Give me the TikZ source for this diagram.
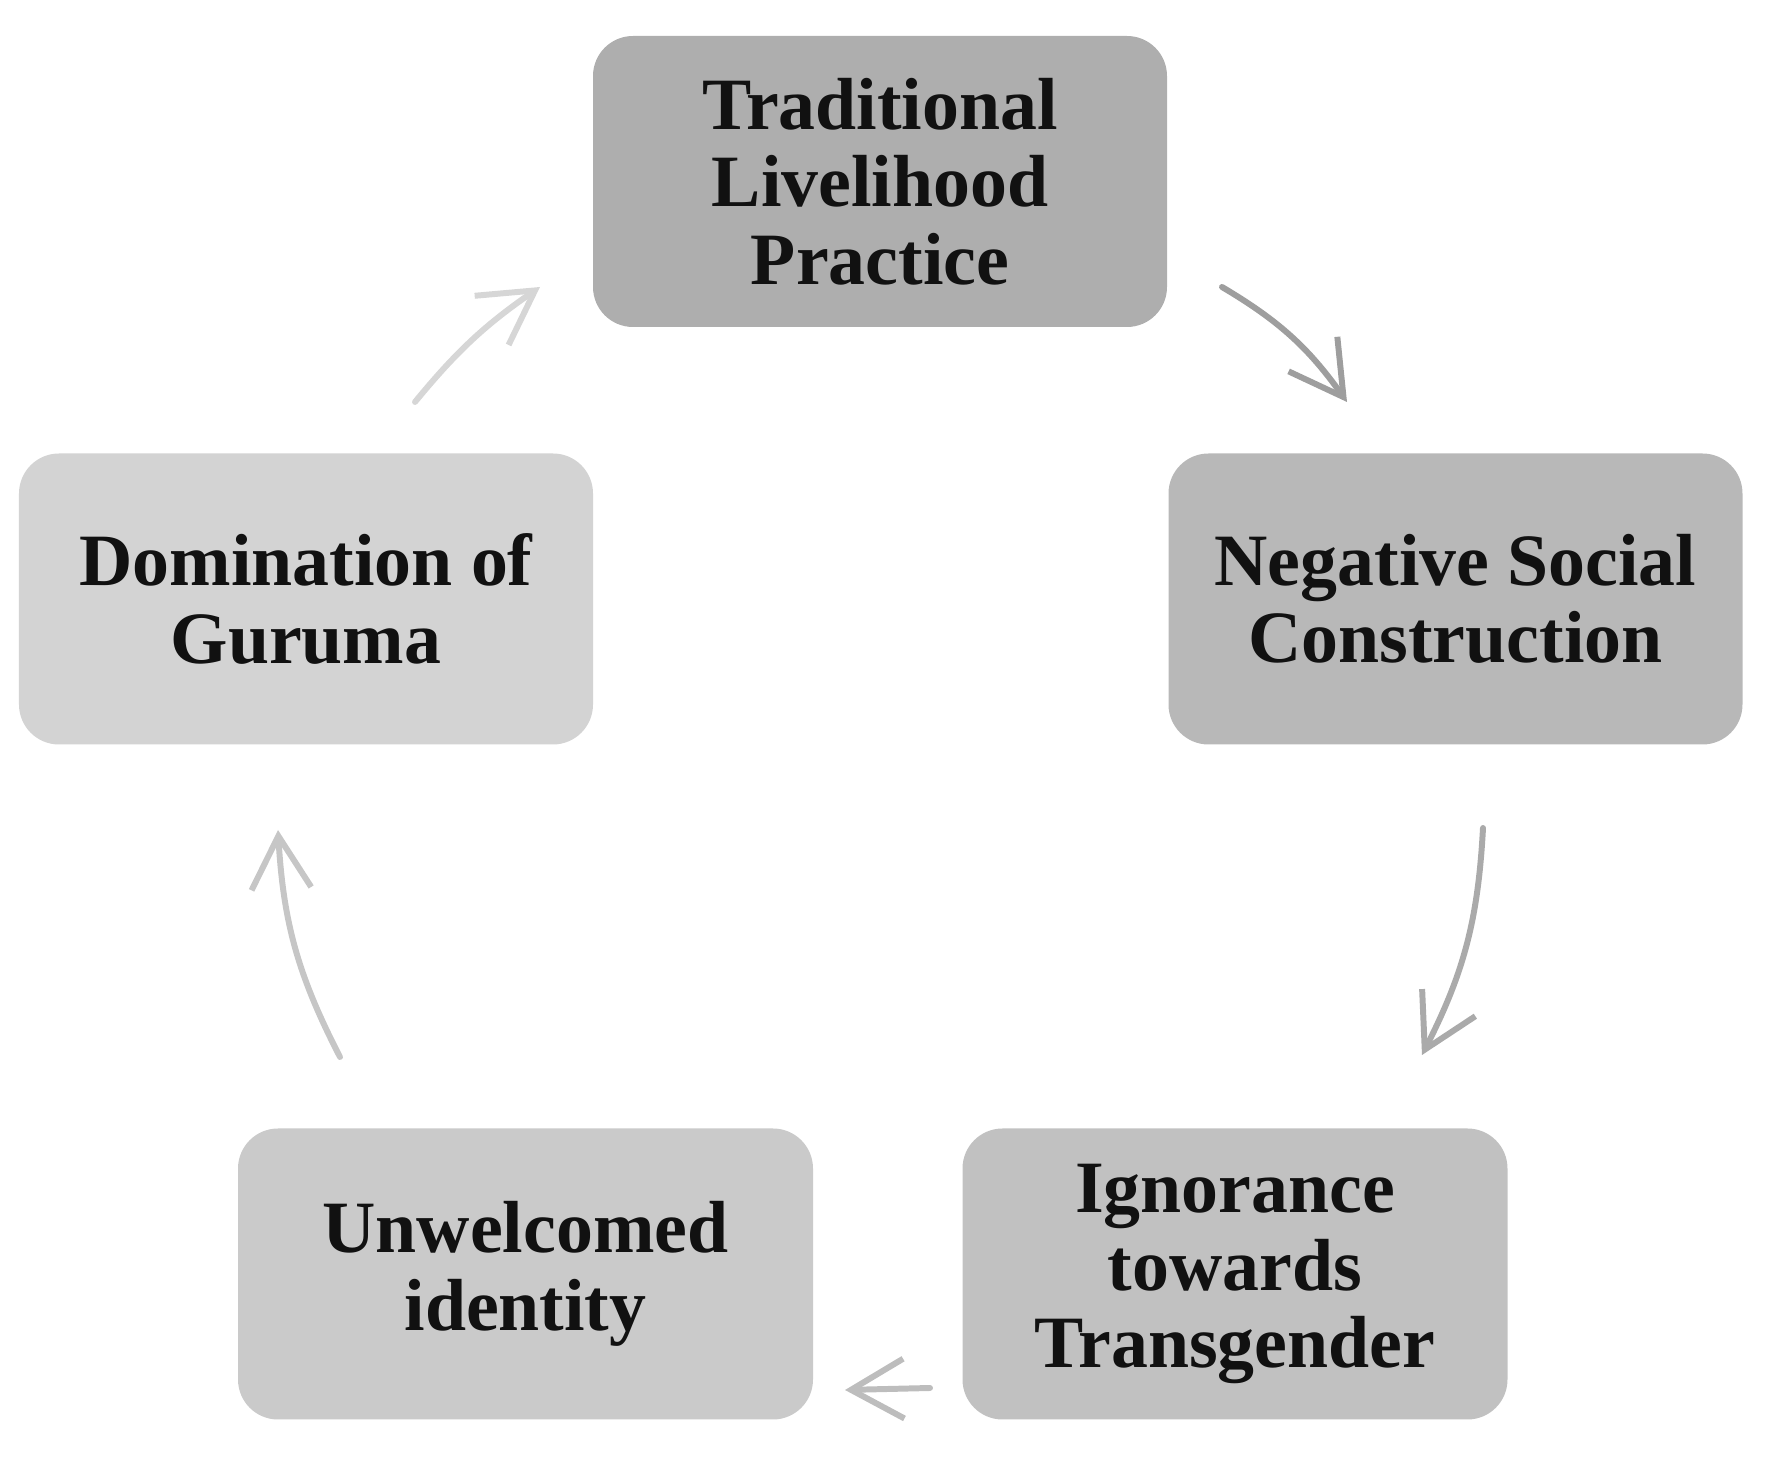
\documentclass[tikz,border=0pt]{standalone}
\usepackage{fontspec}
\setmainfont{Liberation Serif}
\usetikzlibrary{arrows.meta,positioning}
\definecolor{boxa}{HTML}{AEAEAE}
\definecolor{boxb}{HTML}{B8B8B8}
\definecolor{boxc}{HTML}{C1C1C1}
\definecolor{boxd}{HTML}{CACACA}
\definecolor{boxe}{HTML}{D3D3D3}
\definecolor{arra}{HTML}{9E9E9E}
\definecolor{arrb}{HTML}{AAAAAA}
\definecolor{arrc}{HTML}{BDBDBD}
\definecolor{arrd}{HTML}{C6C6C6}
\definecolor{arre}{HTML}{D6D6D6}
\definecolor{ink}{HTML}{111111}

\begin{document}
\begin{tikzpicture}[
    stage/.style={rounded corners=0.4cm, minimum width=5.74cm, minimum height=2.91cm,
      inner sep=0pt, align=center, text=ink, font=\fontsize{21}{22}\selectfont\bfseries},
    cycle/.style={line width=1.7pt, line cap=round, -{Straight Barb[length=15pt,width=17pt]}}]
  \useasboundingbox (0,0) rectangle (17.8,14.57);
  \node[stage, fill=boxa] (trad) at (8.80,12.755) {Traditional\\ Livelihood\\ Practice};
  \node[stage, fill=boxb] (negsoc) at (14.555,8.58) {Negative Social\\ Construction};
  \node[stage, fill=boxc, minimum width=5.45cm] (ignor) at (12.35,1.83) {Ignorance\\ towards\\ Transgender};
  \node[stage, fill=boxd, minimum width=5.75cm] (unwel) at (5.255,1.83) {Unwelcomed\\ identity};
  \node[stage, fill=boxe] (domin) at (3.06,8.58) {Domination of\\ Guruma};
  % arrow ends between the boxes
  \coordinate (a1s) at (12.22,11.70);  \coordinate (a1e) at (13.47,10.55);
  \coordinate (a2s) at (14.83,6.29);   \coordinate (a2e) at (14.22,4.02);
  \coordinate (a3s) at (9.30,0.69);    \coordinate (a3e) at (8.45,0.67);
  \coordinate (a4s) at (3.40,4.00);    \coordinate (a4e) at (2.78,6.27);
  \coordinate (a5s) at (4.15,10.55);   \coordinate (a5e) at (5.40,11.70);
  \draw[cycle, arra] (a1s) to[bend left=12] (a1e);
  \draw[cycle, arrb] (a2s) to[bend left=12] (a2e);
  \draw[cycle, arrc] (a3s) -- (a3e);
  \draw[cycle, arrd] (a4s) to[bend left=12] (a4e);
  \draw[cycle, arre] (a5s) to[bend left=8] (a5e);
\end{tikzpicture}
\end{document}
